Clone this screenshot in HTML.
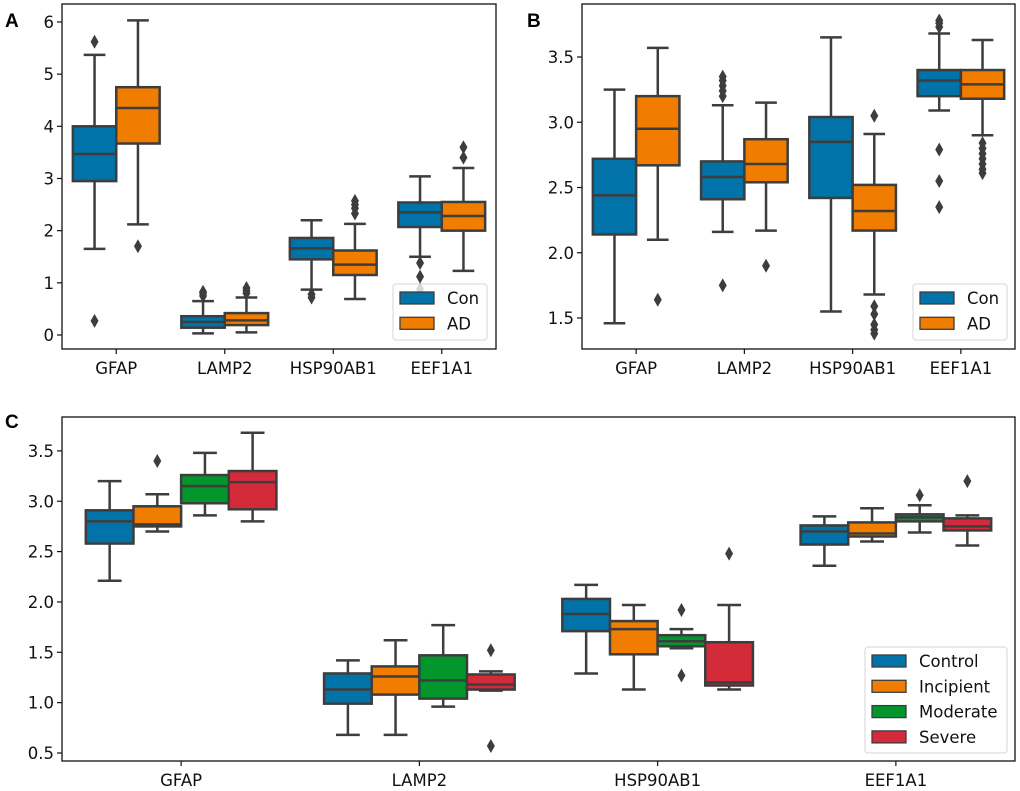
<!DOCTYPE html>
<html><head><meta charset="utf-8">
<style>
body{margin:0;background:#fff;}
svg{display:block;font-family:"DejaVu Sans","Liberation Sans",sans-serif;}
</style></head>
<body>
<svg id="fig" width="1020" height="791" viewBox="0 0 1020 791" xmlns="http://www.w3.org/2000/svg"></svg>
<script>
// ---------- DATA ----------
const categories = ["GFAP","LAMP2","HSP90AB1","EEF1A1"];
const hueAB = ["Con","AD"];
const hueC = ["Control","Incipient","Moderate","Severe"];
// stats: [whisker low, q1, median, q3, whisker high]
const panelA_Con = [[1.65,2.95,3.47,4.0,5.37],[0.03,0.14,0.25,0.36,0.65],[0.87,1.45,1.66,1.86,2.2],[1.5,2.07,2.35,2.54,3.04]];
const panelA_AD  = [[2.12,3.67,4.35,4.75,6.03],[0.05,0.19,0.28,0.42,0.72],[0.69,1.15,1.35,1.62,2.13],[1.23,2.0,2.28,2.55,3.2]];
const panelA_ConOut = [[5.62,0.27],[0.75,0.8,0.83],[0.72,0.78],[1.38,1.12,0.88]];
const panelA_ADOut  = [[1.7],[0.8,0.85,0.9],[2.33,2.43,2.5,2.57],[3.4,3.6]];
const panelB_Con = [[1.46,2.14,2.44,2.72,3.25],[2.16,2.41,2.58,2.7,3.13],[1.55,2.42,2.85,3.04,3.65],[3.09,3.2,3.32,3.4,3.68]];
const panelB_AD  = [[2.1,2.67,2.95,3.2,3.57],[2.17,2.54,2.68,2.87,3.15],[1.68,2.17,2.32,2.52,2.91],[2.9,3.18,3.29,3.4,3.63]];
const panelB_ConOut = [[],[1.75,3.2,3.24,3.28,3.32,3.35],[],[3.73,3.76,3.78,2.79,2.55,2.35]];
const panelB_ADOut  = [[1.64],[1.9],[3.05,1.59,1.53,1.45,1.41,1.38],[2.84,2.8,2.76,2.72,2.68,2.64,2.61]];
const panelC_Control   = [[2.21,2.58,2.8,2.91,3.2],[0.68,0.99,1.13,1.29,1.42],[1.29,1.71,1.88,2.03,2.17],[2.36,2.57,2.7,2.76,2.85]];
const panelC_Incipient = [[2.7,2.75,2.77,2.95,3.07],[0.68,1.08,1.26,1.36,1.62],[1.13,1.48,1.73,1.81,1.97],[2.6,2.65,2.68,2.79,2.93]];
const panelC_Moderate  = [[2.86,2.98,3.15,3.26,3.48],[0.96,1.04,1.22,1.47,1.77],[1.54,1.56,1.61,1.67,1.73],[2.69,2.8,2.84,2.87,2.96]];
const panelC_Severe    = [[2.8,2.92,3.19,3.3,3.68],[1.12,1.13,1.18,1.28,1.31],[1.13,1.17,1.2,1.6,1.97],[2.56,2.71,2.75,2.83,2.86]];
const panelC_ControlOut   = [[],[],[],[]];
const panelC_IncipientOut = [[3.4],[],[],[]];
const panelC_ModerateOut  = [[],[],[1.92,1.27],[3.06]];
const panelC_SevereOut    = [[],[1.52,0.57],[2.48],[3.2]];
const ticksA = [0,1,2,3,4,5,6];
const ticksB = [1.5,2.0,2.5,3.0,3.5];
const ticksC = [0.5,1.0,1.5,2.0,2.5,3.0,3.5];
const tickLabelsB = ["1.5","2.0","2.5","3.0","3.5"];
const tickLabelsC = ["0.5","1.0","1.5","2.0","2.5","3.0","3.5"];

// ---------- DRAW ----------
const NS="http://www.w3.org/2000/svg";
const svg=document.getElementById('fig');
const colors=["#0173a8","#f07d00","#02962d","#d42b3a"];
const EDGE="#3d3d3d";
const FS=16.5;
function mk(tag,attrs,parent){const e=document.createElementNS(NS,tag);for(const k in attrs)e.setAttribute(k,attrs[k]);(parent||svg).appendChild(e);return e;}

function panel(cfg){
  const g=mk('g',{});
  
  
  const L=cfg.l,R=cfg.r,T=cfg.t,B=cfg.b;
  const yv=v=>cfg.y0px-(v-cfg.y0)*cfg.pxPer;
  const n=categories.length, step=(R-L)/n;
  const xc=i=>L+step*(i+0.5);
  const nh=cfg.series.length, bw=step*0.8/nh;
  categories.forEach((c,i)=>{
    cfg.series.forEach((s,h)=>{
      const st=s[i]; const cx=xc(i)-step*0.4+bw*(h+0.5);
      const bg=mk('g',{},g);
      
      
      mk('line',{x1:cx,x2:cx,y1:yv(st[0]),y2:yv(st[1]),stroke:EDGE,'stroke-width':2.5},bg);
      mk('line',{x1:cx,x2:cx,y1:yv(st[3]),y2:yv(st[4]),stroke:EDGE,'stroke-width':2.5},bg);
      mk('line',{x1:cx-bw/4,x2:cx+bw/4,y1:yv(st[0]),y2:yv(st[0]),stroke:EDGE,'stroke-width':2.5},bg);
      mk('line',{x1:cx-bw/4,x2:cx+bw/4,y1:yv(st[4]),y2:yv(st[4]),stroke:EDGE,'stroke-width':2.5},bg);
      mk('rect',{x:cx-bw/2,y:yv(st[3]),width:bw,height:yv(st[1])-yv(st[3]),fill:colors[h],stroke:EDGE,'stroke-width':2.5},bg);
      mk('line',{x1:cx-bw/2,x2:cx+bw/2,y1:yv(st[2]),y2:yv(st[2]),stroke:EDGE,'stroke-width':2.5},bg);
      cfg.outs[h][i].forEach(v=>{
        const y=yv(v);
        const d=mk('path',{d:`M${cx} ${y-7}L${cx+4} ${y}L${cx} ${y+7}L${cx-4} ${y}Z`,fill:EDGE},bg);
        
        
      });
    });
  });
  mk('rect',{x:L,y:T,width:R-L,height:B-T,fill:'none',stroke:'#111','stroke-width':1.3},g);
  cfg.ticks.forEach((v,k)=>{
    const y=yv(v);
    mk('line',{x1:L-5,x2:L,y1:y,y2:y,stroke:'#111','stroke-width':1.2},g);
    const t=mk('text',{x:L-8,y:y+6,'text-anchor':'end','font-size':FS,fill:'#111'},g);
    t.textContent=cfg.tickLabels[k];
    
    
  });
  categories.forEach((c,i)=>{
    mk('line',{x1:xc(i),x2:xc(i),y1:B,y2:B+5,stroke:'#111','stroke-width':1.2},g);
    const t=mk('text',{x:xc(i),y:B+25,'text-anchor':'middle','font-size':FS,fill:'#111'},g);
    t.textContent=c;
    
    
  });
  const pl=mk('text',{x:cfg.lx,y:cfg.ly,'font-size':19,'font-weight':'bold',fill:'#000','font-family':'Liberation Sans, sans-serif'},g);
  pl.textContent=cfg.letter;
  
  
  const lg=mk('g',{},g);
  
  
  mk('rect',{x:cfg.leg[0],y:cfg.leg[1],width:cfg.leg[2],height:cfg.leg[3],rx:3,fill:'#fff','fill-opacity':0.8,stroke:'#d6d6d6','stroke-width':1},lg);
  cfg.hues.forEach((h,k)=>{
    const y=cfg.leg[1]+8+k*25.3;
    const e=mk('g',{},lg);
    
    
    mk('rect',{x:cfg.leg[0]+7,y:y,width:34,height:12,fill:colors[k],stroke:EDGE,'stroke-width':1.3},e);
    const t=mk('text',{x:cfg.leg[0]+54,y:y+12,'font-size':16.5,fill:'#111'},e);
    t.textContent=h;
  });
}

panel({name:'panel-a',letter:'A',lx:5,ly:27,l:62,r:496,t:4,b:349,y0:0,y0px:335,pxPer:52.17,
  ticks:ticksA,tickLabels:ticksA.map(String),hues:hueAB,series:[panelA_Con,panelA_AD],outs:[panelA_ConOut,panelA_ADOut],
  leg:[393,284,94,56]});
panel({name:'panel-b',letter:'B',lx:527,ly:27,l:582,r:1015,t:4,b:349,y0:1.5,y0px:318,pxPer:130.5,
  ticks:ticksB,tickLabels:tickLabelsB,hues:hueAB,series:[panelB_Con,panelB_AD],outs:[panelB_ConOut,panelB_ADOut],
  leg:[913,284,94,56]});
panel({name:'panel-c',letter:'C',lx:5,ly:428,l:62,r:1015,t:417,b:761,y0:0.5,y0px:753,pxPer:100.7,
  ticks:ticksC,tickLabels:tickLabelsC,hues:hueC,series:[panelC_Control,panelC_Incipient,panelC_Moderate,panelC_Severe],
  outs:[panelC_ControlOut,panelC_IncipientOut,panelC_ModerateOut,panelC_SevereOut],
  leg:[865,647,142,106]});
</script>
</body></html>
